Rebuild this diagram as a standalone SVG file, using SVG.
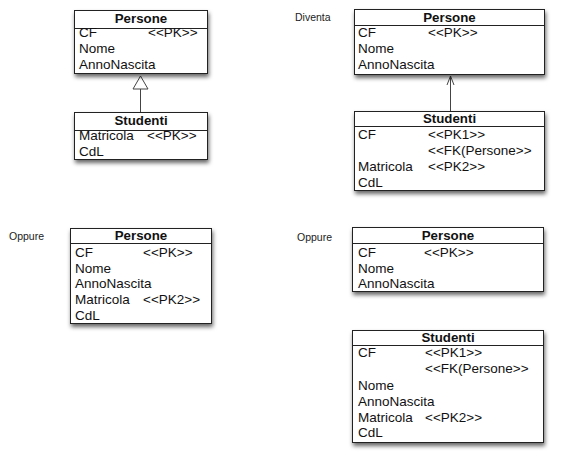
<svg xmlns="http://www.w3.org/2000/svg" width="571" height="462" viewBox="0 0 571 462">
<style>
.box{fill:#fff;stroke:#222;stroke-width:1}
.sep{stroke:#222;stroke-width:1}
.t{font-family:"Liberation Sans",Arial,sans-serif;font-size:13.5px;fill:#111}
.h{font-family:"Liberation Sans",Arial,sans-serif;font-size:13.3px;font-weight:bold;fill:#111;text-anchor:middle}
.lbl{font-family:"Liberation Sans",Arial,sans-serif;font-size:10.5px;fill:#222}
.conn{stroke:#444;stroke-width:1;fill:none}
</style>
<defs>
<filter id="sh" x="-10%" y="-10%" width="130%" height="140%">
<feDropShadow dx="1" dy="3" stdDeviation="2.2" flood-color="#000" flood-opacity="0.6"/>
</filter>
</defs>
<rect width="571" height="462" fill="#fff"/>
<text class="lbl" x="295" y="21">Diventa</text>
<text class="lbl" x="9" y="240">Oppure</text>
<text class="lbl" x="297" y="241">Oppure</text>

<g id="connectors">
<line class="conn" x1="140.5" y1="89" x2="140.5" y2="112"/>
<polygon class="conn" points="140.5,76 133,89 148,89" fill="#fff"/>
<line class="conn" x1="450.5" y1="112" x2="450.5" y2="76"/>
<polyline class="conn" points="447,85 450.5,76 454,85"/>
</g>

<g id="persone1">
<rect class="box" x="74.5" y="10.5" width="133" height="63" filter="url(#sh)"/>
<line class="sep" x1="74.5" y1="28.5" x2="207.5" y2="28.5"/>
<text class="h" x="141" y="23">Persone</text>
<text class="t" x="79" y="37">CF</text>
<text class="t" x="148" y="37">&lt;&lt;PK&gt;&gt;</text>
<text class="t" x="79" y="53">Nome</text>
<text class="t" x="79" y="69">AnnoNascita</text>
</g>

<g id="studenti1">
<rect class="box" x="74.5" y="112.5" width="133" height="47" filter="url(#sh)"/>
<line class="sep" x1="74.5" y1="130.5" x2="207.5" y2="130.5"/>
<text class="h" x="141" y="125">Studenti</text>
<text class="t" x="79" y="140">Matricola</text>
<text class="t" x="147" y="140">&lt;&lt;PK&gt;&gt;</text>
<text class="t" x="79" y="156">CdL</text>
</g>

<g id="persone2">
<rect class="box" x="354.5" y="9.5" width="190" height="65" filter="url(#sh)"/>
<line class="sep" x1="354.5" y1="25.5" x2="544.5" y2="25.5"/>
<text class="h" x="449.5" y="22">Persone</text>
<text class="t" x="358" y="37">CF</text>
<text class="t" x="428" y="37">&lt;&lt;PK&gt;&gt;</text>
<text class="t" x="358" y="53">Nome</text>
<text class="t" x="358" y="69">AnnoNascita</text>
</g>

<g id="studenti2">
<rect class="box" x="354.5" y="111.5" width="190" height="79" filter="url(#sh)"/>
<line class="sep" x1="354.5" y1="126.5" x2="544.5" y2="126.5"/>
<text class="h" x="449.5" y="123">Studenti</text>
<text class="t" x="358" y="139">CF</text>
<text class="t" x="428" y="139">&lt;&lt;PK1&gt;&gt;</text>
<text class="t" x="428" y="155">&lt;&lt;FK(Persone&gt;&gt;</text>
<text class="t" x="358" y="171">Matricola</text>
<text class="t" x="428" y="171">&lt;&lt;PK2&gt;&gt;</text>
<text class="t" x="358" y="187">CdL</text>
</g>

<g id="persone3">
<rect class="box" x="70.5" y="228.5" width="141" height="95" filter="url(#sh)"/>
<line class="sep" x1="70.5" y1="243.5" x2="211.5" y2="243.5"/>
<text class="h" x="141" y="240">Persone</text>
<text class="t" x="75" y="257">CF</text>
<text class="t" x="143" y="257">&lt;&lt;PK&gt;&gt;</text>
<text class="t" x="75" y="272.5">Nome</text>
<text class="t" x="75" y="288">AnnoNascita</text>
<text class="t" x="75" y="304">Matricola</text>
<text class="t" x="143" y="304">&lt;&lt;PK2&gt;&gt;</text>
<text class="t" x="75" y="320">CdL</text>
</g>

<g id="persone4">
<rect class="box" x="352.5" y="227.5" width="191" height="64" filter="url(#sh)"/>
<line class="sep" x1="352.5" y1="243.5" x2="543.5" y2="243.5"/>
<text class="h" x="448" y="240">Persone</text>
<text class="t" x="358" y="257">CF</text>
<text class="t" x="424" y="257">&lt;&lt;PK&gt;&gt;</text>
<text class="t" x="358" y="272.5">Nome</text>
<text class="t" x="358" y="288">AnnoNascita</text>
</g>

<g id="studenti3">
<rect class="box" x="352.5" y="330.5" width="191" height="112" filter="url(#sh)"/>
<line class="sep" x1="352.5" y1="345.5" x2="543.5" y2="345.5"/>
<text class="h" x="448" y="342">Studenti</text>
<text class="t" x="358" y="357">CF</text>
<text class="t" x="425" y="357">&lt;&lt;PK1&gt;&gt;</text>
<text class="t" x="425" y="373">&lt;&lt;FK(Persone&gt;&gt;</text>
<text class="t" x="358" y="390">Nome</text>
<text class="t" x="358" y="406">AnnoNascita</text>
<text class="t" x="358" y="421.5">Matricola</text>
<text class="t" x="425" y="421.5">&lt;&lt;PK2&gt;&gt;</text>
<text class="t" x="358" y="437">CdL</text>
</g>
</svg>
